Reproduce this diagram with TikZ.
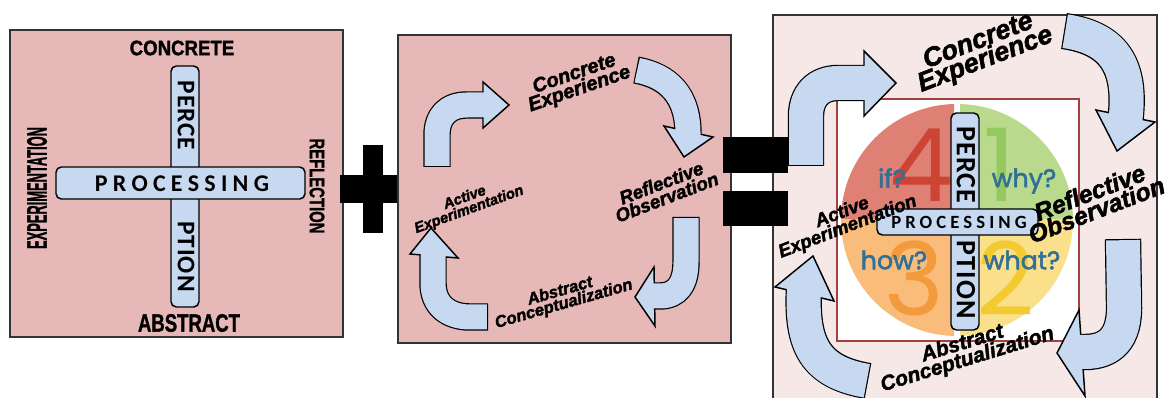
\documentclass[tikz,border=0pt]{standalone}
\usepackage{fontspec}
\usepackage{graphicx}
\setmainfont{Liberation Sans}
\newfontfamily\capsfont[FakeBold=1.5]{Liberation Sans Bold}
\newfontfamily\cyclefont[FakeBold=2]{Liberation Sans Bold Italic}
\newfontfamily\procfont[LetterSpace=22]{Carlito Bold}
\newfontfamily\stemfont[LetterSpace=4]{Carlito Bold}
\newfontfamily\quadfont{Poppins}
\newfontfamily\askfont[FakeBold=2]{Poppins}

\definecolor{panelpink}{HTML}{E6B8B7}
\definecolor{panellight}{HTML}{F7E8E8}
\definecolor{arrowblue}{HTML}{C6D9F1}
\definecolor{framered}{HTML}{A04040}
\definecolor{qred}{HTML}{DE8074}
\definecolor{qgreen}{HTML}{B9DA8C}
\definecolor{qyellow}{HTML}{FBE08C}
\definecolor{qorange}{HTML}{F9BC7A}
\definecolor{nred}{HTML}{CC4434}
\definecolor{ngreen}{HTML}{96C860}
\definecolor{nyellow}{HTML}{F3CA30}
\definecolor{norange}{HTML}{F29A3C}
\definecolor{askblue}{HTML}{2F6F98}

\tikzset{
  panel/.style={draw=black!80, line width=1.1pt},
  bar/.style={draw=black, fill=arrowblue, line width=1.1pt, rounded corners=4pt},
  arrowhead/.style={draw=black, fill=arrowblue, line width=1.1pt, line join=miter},
  capslabel/.style={font=\capsfont\fontsize{#1}{#1}\selectfont, inner sep=0pt},
  cyclelabel/.style 2 args={font=\cyclefont\fontsize{#1}{#2}\selectfont, align=center, inner sep=0pt},
  proclabel/.style={font=\procfont\fontsize{#1}{#1}\selectfont, inner sep=0pt},
  stemlabel/.style={font=\stemfont\fontsize{#1}{#1}\selectfont, inner sep=0pt, rotate=-90},
  numlabel/.style={font=\quadfont\fontsize{76}{76}\selectfont, inner sep=0pt},
  asklabel/.style={font=\askfont\fontsize{19}{19}\selectfont, text=askblue, inner sep=0pt}
}

% shaft width, shaft path, head corners
\newcommand{\bendarrow}[3]{%
  \draw[line width=#1+1.8pt] #2;
  \filldraw[arrowhead] #3 -- cycle;
  \draw[arrowblue, line width=#1, shorten <=0.9pt] #2;
}

\begin{document}
\begin{tikzpicture}[x=0.75pt,y=-0.75pt]
\useasboundingbox (0,0) rectangle (1171,398);
\clip (0,0) rectangle (1171,398);

% first panel: the two axes
\draw[panel, fill=panelpink] (10,30) rectangle (343,337);
\node[capslabel=15.7] (concrete) at (182,48) {\scalebox{0.89}[1]{CONCRETE}};
\node[capslabel=18.8] (abstract) at (189,323) {\scalebox{0.74}[1]{ABSTRACT}};
\node[capslabel=21, rotate=90] (experimentation) at (37,188) {\scalebox{0.46}[1]{EXPERIMENTATION}};
\node[capslabel=15.7, rotate=-90] (reflection) at (317,186) {\scalebox{0.71}[1]{REFLECTION}};
\draw[bar] (171,66) rectangle (199,307);
\draw[bar] (56,167) rectangle (305,199);
\node[stemlabel=19] (perce) at (186,115.5) {PERCE};
\node[stemlabel=19] (ption) at (186,256.5) {PTION};
\node[proclabel=18] (processing) at (182,184) {PROCESSING};

% plus
\fill (340,175) rectangle (406,203);
\fill (363,145) rectangle (383,233);

% second panel: the cycle
\draw[panel, fill=panelpink] (398,35) rectangle (731,343);
\bendarrow{18.75pt}{(437,167) -- (437,135) .. controls (437,117) and (447,105) .. (467,105) -- (486,105)}{(483,82) -- (509,105) -- (483,128)}
\bendarrow{18.75pt}{(636,70) .. controls (668,76) and (689,95) .. (688,137)}{(664,126) -- (684,157) -- (713,137)}
\bendarrow{18.75pt}{(686,217) -- (686,262) .. controls (686,284) and (677,296) .. (660,296) -- (651,296)}{(654,267) -- (635,297) -- (655,326)}
\bendarrow{18.75pt}{(488,317) -- (470,317) .. controls (448,317) and (433,305) .. (433,283) -- (433,251)}{(410,254) -- (431,228) -- (458,258)}
\node[cyclelabel={15}{12}, rotate=19] (ce2) at (577,82) {Concrete\\Experience};
\node[cyclelabel={14}{11.5}, rotate=21] (ro2) at (664,190) {Reflective\\Observation};
\node[cyclelabel={12.4}{10}, rotate=16] (ac2) at (562,298) {Abstract\\Conceptualization};
\node[cyclelabel={11}{9.5}, rotate=20] (ae2) at (467,204) {Active\\Experimentation};

% third panel: both together
\draw[panel, fill=panellight] (773,15) rectangle (1157,410);
\draw[framered, line width=1.5pt, fill=white] (837,99) rectangle (1079,341);
\foreach \qx/\qy/\qc in {-1/-1/qred, 1/-1/qgreen, 1/1/qyellow, -1/1/qorange} {
  \begin{scope}
    \clip (957+\qx*3,220) rectangle ++(\qx*125,\qy*125);
    \fill[\qc] (957,220) circle[radius=87pt];
  \end{scope}
}
\node[numlabel, text=nred] (four) at (921,165) {4};
\node[numlabel, text=ngreen] (one) at (1000,165) {1};
\node[numlabel, text=norange] (three) at (914,278) {3};
\node[numlabel, text=nyellow] (two) at (1006,278) {2};
\node[asklabel] (if) at (892,178) {if?};
\node[asklabel] (why) at (1024,181) {why?};
\node[asklabel] (how) at (894,260) {how?};
\node[asklabel] (what) at (1022,260) {what?};
\draw[bar] (951,113) rectangle (979,330);
\draw[bar] (877,209) rectangle (1038,235);
\node[stemlabel=21] (perce3) at (966,165) {PERCE};
\node[stemlabel=21] (ption3) at (966,280) {PTION};
\node[proclabel=14] (processing3) at (959,222) {PROCESSING};
\bendarrow{25.5pt}{(806,166) -- (806,116) .. controls (806,96) and (818,83) .. (838,83) -- (867,83)}{(864,51) -- (896,83) -- (864,116)}
\bendarrow{25.5pt}{(1064,31) .. controls (1112,38) and (1133,64) .. (1125,123)}{(1096,110) -- (1117,151) -- (1155,122)}
\bendarrow{25.5pt}{(1123,239) -- (1124,305) .. controls (1125,338) and (1110,352) .. (1085,352) -- (1078,352)}{(1079,310) -- (1057,353) -- (1085,396)}
\bendarrow{25.5pt}{(868,381) .. controls (815,372) and (801,345) .. (804,288)}{(775,287) -- (813,256) -- (834,301)}
\node[cyclelabel={20}{15}, rotate=21] (ce3) at (982,51) {Concrete\\Experience};
\node[cyclelabel={18.5}{14}, rotate=21] (ro3) at (1093,201) {Reflective\\Observation};
\node[cyclelabel={15.7}{12.5}, rotate=17] (ac3) at (965,352) {Abstract\\Conceptualization};
\node[cyclelabel={14}{11.5}, rotate=21] (ae3) at (845,220) {Active\\Experimentation};

% equals
\fill (723,137) rectangle (788,173);
\fill (723,191) rectangle (788,226);
\end{tikzpicture}
\end{document}
